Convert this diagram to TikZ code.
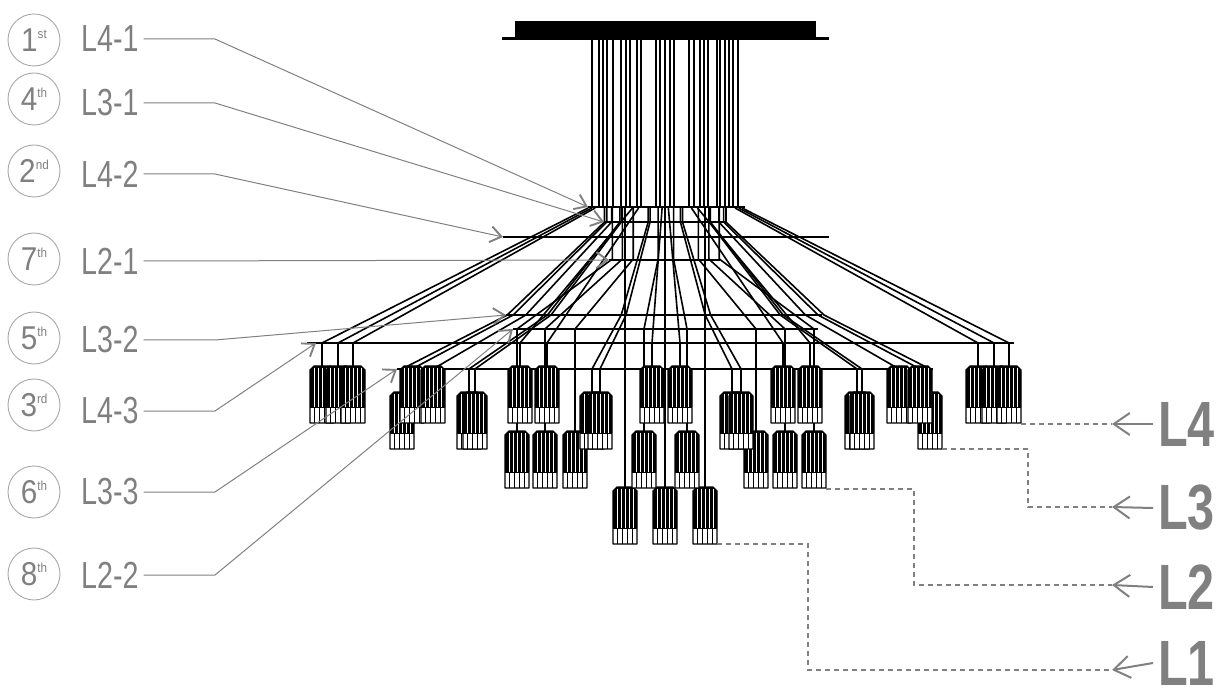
\documentclass[tikz,border=0pt]{standalone}
\usepackage{fontspec}
\usepackage{xcolor}
\usepackage{tikz}
\usetikzlibrary{arrows.meta}
\newfontfamily\etroit{Liberation Sans}[FakeStretch=0.76]
\newfontfamily\rondfont{Liberation Sans}[FakeStretch=0.9]
\definecolor{gris}{HTML}{808080}
\definecolor{grisclair}{HTML}{A8A8A8}

\begin{document}
\begin{tikzpicture}[x=1pt,y=-1pt]
% Styles (MODIFIABLES)
\tikzstyle{tige}=[line width=1.8pt]
\tikzstyle{barre}=[line width=2.8pt]
\tikzstyle{fil}=[line width=1.6pt]
\tikzstyle{repere}=[gris,line width=1pt,-{Straight Barb[length=11pt,width=16pt,line width=1.9pt]}]
\tikzstyle{tirets}=[gris,line width=1.6pt,dash pattern=on 5pt off 4pt]
\tikzstyle{fleche}=[gris,line width=2pt,-{Straight Barb[length=16pt,width=22pt]}]
\tikzstyle{rang}=[circle,draw=grisclair,line width=0.9pt,minimum size=52pt,inner sep=0pt]
\tikzstyle{chiffre}=[inner sep=0pt,gris,font=\rondfont\fontsize{33}{33}\selectfont]
\tikzstyle{etiquette}=[anchor=west,inner sep=5pt,gris,font=\etroit\fontsize{37.7}{40}\selectfont]
\tikzstyle{niveau}=[anchor=west,inner sep=2pt,gris,font=\etroit\bfseries\fontsize{64}{64}\selectfont]
% Dimensions (MODIFIABLES)
\def\RangA{366}
\def\RangB{392}
\def\RangC{431}
\def\RangD{487}
\def\ordre#1#2{#1\raisebox{13pt}{\fontsize{13}{13}\selectfont #2}}
\def\lampe#1#2{
  \fill (#1,#2+4) -- (#1+4,#2) -- (#1+20,#2) -- (#1+24,#2+4) -- (#1+24,#2+41) -- (#1,#2+41) -- cycle;
  \foreach \i in {4,8,12,16,20} \draw[white,line width=0.7pt] (#1+\i,#2+1.5) -- (#1+\i,#2+41);
  \fill[white] (#1,#2+41) rectangle (#1+24,#2+57);
  \foreach \i in {4.8,9.6,14.4,19.2} \draw[line width=0.9pt] (#1+\i,#2+41) -- (#1+\i,#2+57);
  \draw[line width=1.3pt,line join=round] (#1,#2+4) -- (#1+4,#2) -- (#1+20,#2) -- (#1+24,#2+4) -- (#1+24,#2+57) -- (#1,#2+57) -- cycle;
  \draw[line width=1pt] (#1,#2+41) -- (#1+24,#2+41);
}
\useasboundingbox (0,0) rectangle (1231,700);
% Pavillon
\fill (515,21) rectangle (816,37);
\fill (502,37) rectangle (829,40);
\foreach \x in {592,599,603,607,613,621,626,630,637,641,656,660,665,670,674,689,694,700,704,708,717,720,725,729,733,738}
  \draw[tige] (\x,40) -- (\x,208);
% Fils L4
\foreach \cx in {322,338,353,520,547,652,680,783,810,978,994,1009}{
  \pgfmathsetmacro\hx{665+(\cx-665)*0.224}
  \draw[fil] (\hx,208) -- (\cx,343) -- (\cx,\RangA);
}
% Fils L3
\foreach \cx/\ty in {402/\RangB,412/\RangA,433/\RangA,469/\RangB,475/\RangB,592/\RangB,600/\RangB,732/\RangB,741/\RangB,857/\RangB,862/\RangB,899/\RangA,920/\RangA,930/\RangB}{
  \pgfmathsetmacro\hx{665+(\cx-665)*0.23}
  \pgfmathsetmacro\mx{665+(\cx-665)*0.6}
  \draw[fil] (\hx,208) -- (\hx,222) -- (\mx,315) -- (\cx,369) -- (\cx,\ty);
}
% Fils L2
\foreach \cx in {517,545,575,644,687,756,785,814}{
  \pgfmathsetmacro\hx{666+(\cx-666)*0.36}
  \draw[fil] (\hx,208) -- (\hx,259) -- (\cx,329) -- (\cx,\RangC);
}
% Fils L1
\foreach \cx in {625,665,705}
  \draw[fil] (\cx,208) -- (\cx,\RangD);
% Barres
\coordinate (L41g) at (588,207); \coordinate (L41d) at (745,207);
\coordinate (L31g) at (604,222); \coordinate (L31d) at (727,222);
\coordinate (L42g) at (503,237); \coordinate (L42d) at (829,237);
\coordinate (L21g) at (609,260); \coordinate (L21d) at (720,260);
\coordinate (L32g) at (506,315); \coordinate (L32d) at (822,315);
\coordinate (L22g) at (513,329); \coordinate (L22d) at (818,329);
\coordinate (L43g) at (307,343); \coordinate (L43d) at (1014,343);
\coordinate (L33g) at (397,369); \coordinate (L33d) at (933,369);
\foreach \nm in {L41,L31,L42,L21,L32,L22,L43,L33}
  \draw[barre] (\nm g) -- (\nm d);
% Lampes
\foreach \x in {613,653,693} {\lampe{\x}{\RangD}}
\foreach \x in {505,533,563,632,675,744,773,802} {\lampe{\x}{\RangC}}
\foreach \x in {390,457,463,580,588,720,729,845,850,918} {\lampe{\x}{\RangB}}
\foreach \x in {310,326,341,400,421,508,535,640,668,771,798,887,908,966,982,997} {\lampe{\x}{\RangA}}
% Etiquettes de gauche
\coordinate (coude) at (215,0);
\node[rang] (r1) at (34,40) {};  \node[chiffre] at (r1) {\ordre{1}{st}};
\node[etiquette] (e1) at (76,39) {L4-1};
\node[rang] (r2) at (34,99) {};  \node[chiffre] at (r2) {\ordre{4}{th}};
\node[etiquette] (e2) at (76,103) {L3-1};
\node[rang] (r3) at (34,171) {}; \node[chiffre] at (r3) {\ordre{2}{nd}};
\node[etiquette] (e3) at (76,174) {L4-2};
\node[rang] (r4) at (34,259) {}; \node[chiffre] at (r4) {\ordre{7}{th}};
\node[etiquette] (e4) at (76,261) {L2-1};
\node[rang] (r5) at (34,338) {}; \node[chiffre] at (r5) {\ordre{5}{th}};
\node[etiquette] (e5) at (76,340) {L3-2};
\node[rang] (r6) at (34,405) {}; \node[chiffre] at (r6) {\ordre{3}{rd}};
\node[etiquette] (e6) at (76,411) {L4-3};
\node[rang] (r7) at (34,492) {}; \node[chiffre] at (r7) {\ordre{6}{th}};
\node[etiquette] (e7) at (76,492) {L3-3};
\node[rang] (r8) at (34,574) {}; \node[chiffre] at (r8) {\ordre{8}{th}};
\node[etiquette] (e8) at (76,575) {L2-2};
\draw[repere] (e1.east) -- (e1.east -| coude) -- (L41g);
\draw[repere] (e2.east) -- (e2.east -| coude) -- (L31g);
\draw[repere] (e3.east) -- (e3.east -| coude) -- (L42g);
\draw[repere] (e4.east) -- (L21g);
\draw[repere] (e5.east) -- (e5.east -| coude) -- (L32g);
\draw[repere] (e6.east) -- (e6.east -| coude) -- ([xshift=9pt]L43g);
\draw[repere] (e7.east) -- (e7.east -| coude) -- (L33g);
\draw[repere] (e8.east) -- (e8.east -| coude) -- (L22g);
% Niveaux de droite
\node[niveau] (n4) at (1156,424) {L4};
\node[niveau] (n3) at (1156,508) {L3};
\node[niveau] (n2) at (1156,587) {L2};
\node[niveau] (n1) at (1156,663) {L1};
\coordinate (b4) at (1021,424); \coordinate (f4) at (1112,424);
\coordinate (b3) at (942,449); \coordinate (c3) at (1028,507); \coordinate (f3) at (1112,507);
\coordinate (b2) at (826,489); \coordinate (c2) at (914,585); \coordinate (f2) at (1112,585);
\coordinate (b1) at (717,544); \coordinate (c1) at (808,670); \coordinate (f1) at (1112,670);
\draw[tirets] (b4) -- (f4);
\draw[tirets] (b3) -| (c3) -- (f3);
\draw[tirets] (b2) -| (c2) -- (f2);
\draw[tirets] (b1) -| (c1) -- (f1);
\foreach \n in {1,2,3,4}
  \draw[fleche] ([xshift=-3pt]n\n.west) -- (f\n);
\end{tikzpicture}
\end{document}
